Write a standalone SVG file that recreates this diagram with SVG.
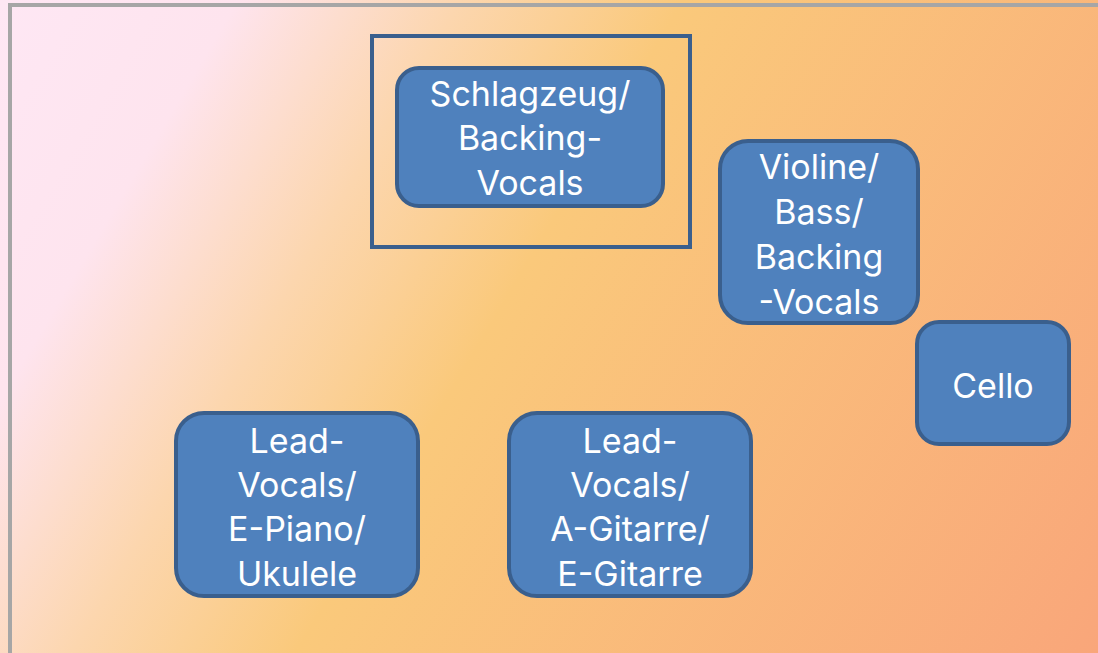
<svg xmlns="http://www.w3.org/2000/svg" width="1098" height="653" viewBox="0 0 1098 653">
<defs>
<linearGradient id="bg" gradientUnits="userSpaceOnUse" x1="0" y1="0" x2="1098" y2="653">
<stop offset="0" stop-color="#FEE7F4"/>
<stop offset="0.16" stop-color="#FEE4EE"/>
<stop offset="0.31" stop-color="#FCD6AE"/>
<stop offset="0.46" stop-color="#FAC97B"/>
<stop offset="1" stop-color="#F9A67A"/>
</linearGradient>
<style>
.node{fill:#4F81BD;stroke:#3A5F8D;stroke-width:4}
.t{font-family:Inter,"Open Sans",sans-serif;font-size:34px;fill:#FFFFFF;text-anchor:middle}
</style>
</defs>
<rect x="0" y="0" width="1098" height="653" fill="url(#bg)"/>
<rect x="10" y="5" width="1100" height="660" fill="none" stroke="#A6A6A6" stroke-width="4"/>
<g id="frame">
<rect x="372" y="36" width="318" height="211" fill="none" stroke="#3A5F8D" stroke-width="4"/>
</g>
<g id="connectors"></g>
<g id="schlagzeug">
<rect class="node" x="397" y="68" width="266" height="138" rx="22"/>
<text class="t" x="530" y="106">Schlagzeug/</text>
<text class="t" x="530" y="150">Backing-</text>
<text class="t" x="530" y="195">Vocals</text>
</g>
<g id="violine">
<rect class="node" x="720" y="141" width="198" height="182" rx="28"/>
<text class="t" x="819" y="179">Violine/</text>
<text class="t" x="819" y="224">Bass/</text>
<text class="t" x="819" y="269">Backing</text>
<text class="t" x="819" y="314">-Vocals</text>
</g>
<g id="cello">
<rect class="node" x="917" y="322" width="152" height="122" rx="22"/>
<text class="t" x="993" y="398">Cello</text>
</g>
<g id="lead1">
<rect class="node" x="176" y="413" width="242" height="183" rx="28"/>
<text class="t" x="297" y="453">Lead-</text>
<text class="t" x="297" y="497">Vocals/</text>
<text class="t" x="297" y="541">E-Piano/</text>
<text class="t" x="297" y="586">Ukulele</text>
</g>
<g id="lead2">
<rect class="node" x="509" y="413" width="242" height="183" rx="28"/>
<text class="t" x="630" y="453">Lead-</text>
<text class="t" x="630" y="497">Vocals/</text>
<text class="t" x="630" y="541">A-Gitarre/</text>
<text class="t" x="630" y="586">E-Gitarre</text>
</g>
</svg>
